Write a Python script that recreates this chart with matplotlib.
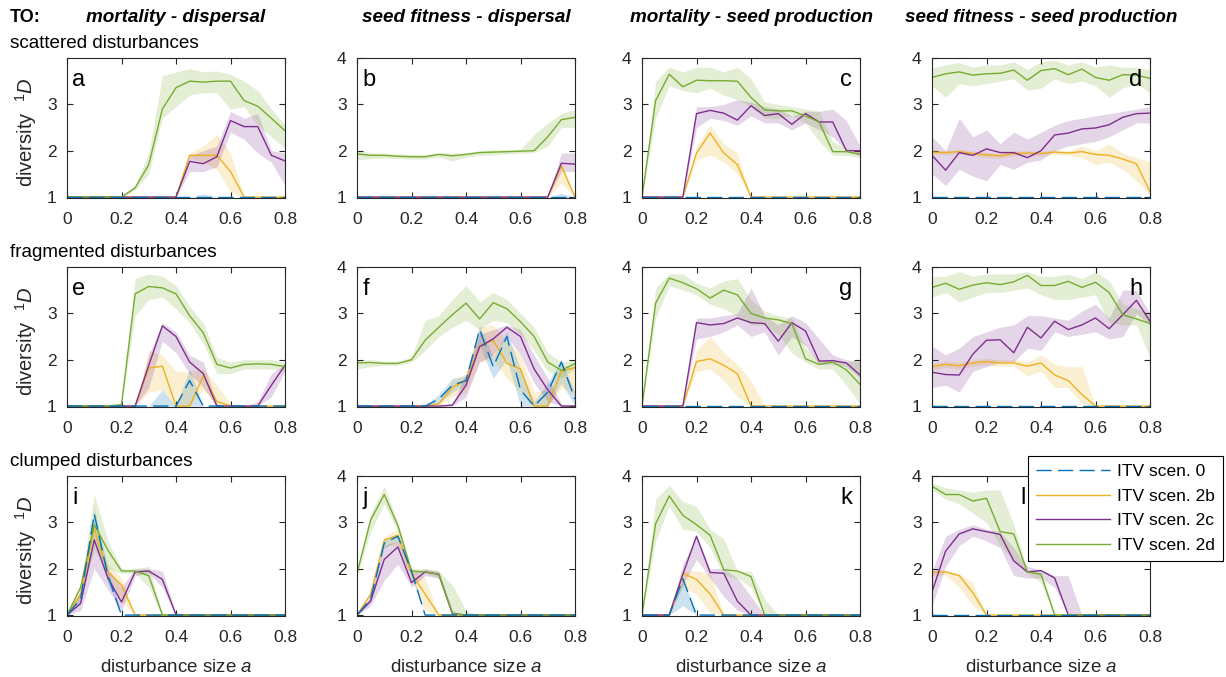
import numpy as np
import matplotlib
matplotlib.use("Agg")
import matplotlib.pyplot as plt
from matplotlib.lines import Line2D

plt.rcParams['font.family'] = ['Liberation Sans', 'DejaVu Sans']
plt.rcParams['mathtext.fontset'] = 'custom'
plt.rcParams['mathtext.rm'] = 'Liberation Sans'
plt.rcParams['mathtext.it'] = 'Liberation Sans:italic'

# disturbance size
x = [0, 0.05, 0.1, 0.15, 0.2, 0.25, 0.3, 0.35, 0.4, 0.45, 0.5, 0.55, 0.6, 0.65, 0.7, 0.75, 0.8]

# ---- panel a : scattered, mortality - dispersal
a_0 = [1, 1, 1, 1, 1, 1, 1, 1, 1, 1, 1, 1, 1, 1, 1, 1, 1]
a_0_lo = [1, 1, 1, 1, 1, 1, 1, 1, 1, 1, 1, 1, 1, 1, 1, 1, 1]
a_0_hi = [1, 1, 1, 1, 1, 1, 1, 1, 1, 1, 1.07, 1, 1, 1, 1, 1, 1]
a_2b = [1, 1, 1, 1, 1, 1, 1, 1, 1, 1.9, 1.9, 1.9, 1.55, 1, 1, 1, 1]
a_2b_lo = [1, 1, 1, 1, 1, 1, 1, 1, 1, 1.85, 1.75, 1.6, 1.1, 1, 1, 1, 1]
a_2b_hi = [1, 1, 1, 1, 1, 1, 1, 1, 1, 1.95, 2.1, 2.35, 1.95, 1, 1, 1, 1]
a_2c = [1, 1, 1, 1, 1, 1, 1, 1, 1, 1.77, 1.72, 1.87, 2.65, 2.52, 2.52, 1.9, 1.78]
a_2c_lo = [1, 1, 1, 1, 1, 1, 1, 1, 1, 1.55, 1.55, 1.65, 2.4, 2.25, 1.95, 1.75, 1.25]
a_2c_hi = [1, 1, 1, 1, 1, 1, 1, 1, 1, 1.9, 2.0, 2.1, 2.85, 2.7, 2.8, 2.0, 1.95]
a_2d = [1, 1, 1, 1, 1, 1.2, 1.7, 2.9, 3.36, 3.5, 3.48, 3.5, 3.5, 3.08, 2.96, 2.7, 2.43]
a_2d_lo = [1, 1, 1, 1, 1, 1.15, 1.5, 2.7, 2.95, 3.2, 3.25, 3.25, 2.9, 2.95, 2.55, 2.3, 2.05]
a_2d_hi = [1, 1, 1, 1, 1, 1.25, 1.95, 3.62, 3.7, 3.77, 3.7, 3.72, 3.65, 3.5, 3.3, 2.9, 2.55]

# ---- panel b : scattered, seed fitness - dispersal
b_0 = [1, 1, 1, 1, 1, 1, 1, 1, 1, 1, 1, 1, 1, 1, 1, 1, 1]
b_0_lo = [1, 1, 1, 1, 1, 1, 1, 1, 1, 1, 1, 1, 1, 1, 1, 1, 1]
b_0_hi = [1, 1, 1, 1, 1, 1, 1, 1, 1, 1, 1, 1, 1, 1, 1, 1.08, 1]
b_2b = [1, 1, 1, 1, 1, 1, 1, 1, 1, 1, 1, 1, 1, 1, 1, 1.67, 1.0]
b_2b_lo = [1, 1, 1, 1, 1, 1, 1, 1, 1, 1, 1, 1, 1, 1, 1, 1.3, 1.0]
b_2b_hi = [1, 1, 1, 1, 1, 1, 1, 1, 1, 1, 1, 1, 1, 1, 1, 1.75, 1.0]
b_2c = [1, 1, 1, 1, 1, 1, 1, 1, 1, 1, 1, 1, 1, 1, 1, 1.73, 1.71]
b_2c_lo = [1, 1, 1, 1, 1, 1, 1, 1, 1, 1, 1, 1, 1, 1, 1, 1.55, 1.55]
b_2c_hi = [1, 1, 1, 1, 1, 1, 1, 1, 1, 1, 1, 1, 1, 1, 1, 1.95, 1.95]
b_2d = [1.93, 1.9, 1.9, 1.88, 1.87, 1.87, 1.92, 1.89, 1.92, 1.96, 1.97, 1.98, 1.99, 2.0, 2.3, 2.67, 2.72]
b_2d_lo = [1.8, 1.83, 1.84, 1.83, 1.82, 1.82, 1.86, 1.78, 1.86, 1.9, 1.91, 1.93, 1.94, 1.96, 2.1, 2.5, 2.5]
b_2d_hi = [2.0, 1.96, 1.95, 1.93, 1.92, 1.92, 1.96, 1.95, 1.96, 2.0, 2.02, 2.02, 2.03, 2.35, 2.6, 2.8, 2.9]

# ---- panel c : scattered, mortality - seed production
c_0 = [1, 1, 1, 1, 1, 1, 1, 1, 1, 1, 1, 1, 1, 1, 1, 1, 1]
c_0_lo = [1, 1, 1, 1, 1, 1, 1, 1, 1, 1, 1, 1, 1, 1, 1, 1, 1]
c_0_hi = [1, 1, 1, 1, 1, 1, 1, 1, 1, 1, 1, 1, 1, 1, 1, 1, 1]
c_2b = [1, 1, 1, 1, 1.95, 2.38, 1.95, 1.7, 1, 1, 1, 1, 1, 1, 1, 1, 1]
c_2b_lo = [1, 1, 1, 1, 1.8, 1.9, 1.75, 1.5, 1, 1, 1, 1, 1, 1, 1, 1, 1]
c_2b_hi = [1, 1, 1, 1, 2.1, 2.55, 2.15, 1.95, 1, 1, 1, 1, 1, 1, 1, 1, 1]
c_2c = [1, 1, 1, 1, 2.8, 2.87, 2.81, 2.66, 2.97, 2.76, 2.8, 2.57, 2.8, 2.62, 2.62, 2.0, 2.0]
c_2c_lo = [1, 1, 1, 1, 2.5, 2.7, 2.65, 2.55, 2.75, 2.6, 2.6, 2.45, 2.6, 2.45, 2.3, 2.0, 1.9]
c_2c_hi = [1, 1, 1, 1, 2.95, 2.95, 3.0, 3.1, 3.05, 2.95, 2.9, 2.75, 2.85, 2.85, 2.9, 2.65, 2.1]
c_2d = [1, 3.08, 3.65, 3.38, 3.52, 3.51, 3.51, 3.5, 3.15, 2.88, 2.86, 2.86, 2.75, 2.62, 1.98, 1.98, 1.92]
c_2d_lo = [1, 2.7, 3.4, 3.3, 3.25, 3.35, 3.2, 3.1, 2.95, 2.7, 2.7, 2.75, 2.6, 2.2, 1.9, 1.9, 1.85]
c_2d_hi = [1, 3.5, 3.8, 3.7, 3.8, 3.8, 3.7, 3.8, 3.55, 3.05, 3.0, 2.95, 2.9, 2.85, 2.2, 2.05, 2.0]

# ---- panel d : scattered, seed fitness - seed production
d_0 = [1, 1, 1, 1, 1, 1, 1, 1, 1, 1, 1, 1, 1, 1, 1, 1, 1]
d_0_lo = [1, 1, 1, 1, 1, 1, 1, 1, 1, 1, 1, 1, 1, 1, 1, 1, 1]
d_0_hi = [1, 1, 1, 1, 1, 1, 1, 1, 1, 1, 1, 1, 1, 1, 1, 1, 1]
d_2b = [1.97, 1.96, 1.98, 1.94, 1.91, 1.89, 1.94, 1.95, 1.94, 1.97, 1.95, 1.98, 1.92, 1.9, 1.82, 1.72, 1.12]
d_2b_lo = [1.92, 1.92, 1.93, 1.89, 1.86, 1.84, 1.89, 1.9, 1.89, 1.92, 1.9, 1.85, 1.7, 1.75, 1.6, 1.35, 1.05]
d_2b_hi = [2.02, 2.0, 2.03, 1.99, 1.96, 1.94, 1.99, 2.0, 1.99, 2.02, 2.0, 2.1, 2.0, 2.15, 1.95, 1.85, 1.75]
d_2c = [1.9, 1.58, 1.96, 1.9, 2.04, 1.96, 1.96, 1.85, 2.0, 2.34, 2.38, 2.47, 2.49, 2.56, 2.72, 2.8, 2.81]
d_2c_lo = [1.5, 1.25, 1.6, 1.45, 1.35, 1.7, 1.6, 1.75, 1.8, 2.0, 2.1, 2.15, 2.2, 2.3, 2.45, 2.6, 2.6]
d_2c_hi = [2.3, 2.0, 2.7, 2.3, 2.45, 2.15, 2.4, 2.25, 2.4, 2.55, 2.65, 2.7, 2.75, 2.8, 2.85, 2.9, 2.95]
d_2d = [3.58, 3.66, 3.7, 3.63, 3.66, 3.67, 3.74, 3.52, 3.73, 3.77, 3.64, 3.76, 3.58, 3.52, 3.64, 3.63, 3.56]
d_2d_lo = [3.4, 3.15, 3.45, 3.4, 3.45, 3.5, 3.55, 3.3, 3.35, 3.55, 3.45, 3.5, 3.4, 3.15, 3.35, 3.45, 3.25]
d_2d_hi = [3.78, 3.85, 3.9, 3.8, 3.85, 3.85, 3.92, 3.75, 3.92, 3.95, 3.85, 3.92, 3.8, 3.85, 3.8, 3.8, 3.75]

# ---- panel e : fragmented, mortality - dispersal
e_0 = [1, 1, 1, 1, 1, 1, 1, 1, 1, 1.55, 1, 1, 1, 1, 1, 1, 1]
e_0_lo = [1, 1, 1, 1, 1, 1, 1, 1, 1, 1, 1, 1, 1, 1, 1, 1, 1]
e_0_hi = [1, 1, 1, 1, 1, 1, 1, 1.35, 1, 1.8, 1, 1, 1, 1, 1, 1, 1]
e_2b = [1, 1, 1, 1, 1, 1, 1.82, 1.86, 1, 1, 1.65, 1.1, 1, 1, 1, 1, 1]
e_2b_lo = [1, 1, 1, 1, 1, 1, 1.3, 1.35, 1, 1, 1.35, 1, 1, 1, 1, 1, 1]
e_2b_hi = [1, 1, 1, 1, 1, 1, 2.2, 2.1, 1.75, 1.75, 1.8, 1.45, 1.05, 1, 1, 1, 1]
e_2c = [1, 1, 1, 1, 1, 1, 1.88, 2.73, 2.5, 1.95, 1.7, 1, 1, 1, 1, 1.45, 1.88]
e_2c_lo = [1, 1, 1, 1, 1, 1, 1.4, 2.4, 2.15, 1.7, 1.4, 1, 1, 1, 1, 1.2, 1.75]
e_2c_hi = [1, 1, 1, 1, 1, 1, 2.1, 2.8, 2.6, 2.1, 1.95, 1.05, 1, 1, 1.1, 1.7, 1.9]
e_2d = [1, 1, 1, 1, 1.03, 3.42, 3.58, 3.55, 3.42, 2.95, 2.58, 1.9, 1.82, 1.9, 1.91, 1.9, 1.85]
e_2d_lo = [1, 1, 1, 1, 1, 2.95, 3.3, 3.35, 3.1, 2.8, 2.35, 1.7, 1.7, 1.8, 1.8, 1.8, 1.75]
e_2d_hi = [1, 1, 1, 1, 1.06, 3.75, 3.85, 3.8, 3.6, 3.15, 2.8, 2.05, 1.95, 2.0, 2.0, 2.0, 1.95]

# ---- panel f : fragmented, seed fitness - dispersal
f_0 = [1, 1, 1, 1, 1, 1, 1.15, 1.45, 1.55, 2.65, 1.85, 2.5, 1.35, 1, 1.3, 1.95, 1.15]
f_0_lo = [1, 1, 1, 1, 1, 1, 1.05, 1.3, 1.45, 2.3, 1.6, 2.0, 1.0, 1, 1, 1.5, 1]
f_0_hi = [1, 1, 1, 1, 1, 1, 1.25, 1.6, 1.65, 2.75, 2.05, 2.6, 1.8, 1.1, 1.5, 2.0, 1.3]
f_2b = [1, 1, 1, 1, 1, 1, 1.05, 1.4, 1.55, 2.3, 2.42, 1.92, 1.8, 1, 1, 1.75, 1.83]
f_2b_lo = [1, 1, 1, 1, 1, 1, 1, 1.2, 1.3, 1.95, 2.0, 1.6, 1.3, 1, 1, 1.4, 1.25]
f_2b_hi = [1, 1, 1, 1, 1, 1, 1.1, 1.55, 1.7, 2.7, 2.75, 2.4, 2.1, 1.3, 1.35, 1.85, 1.9]
f_2c = [1, 1, 1, 1, 1, 1, 1, 1.02, 1.45, 2.28, 2.45, 2.7, 2.5, 1.8, 1.35, 1, 1]
f_2c_lo = [1, 1, 1, 1, 1, 1, 1, 1, 1.2, 1.95, 2.1, 2.5, 2.1, 1.5, 1.1, 1, 1]
f_2c_hi = [1, 1, 1, 1, 1, 1, 1, 1.05, 1.7, 2.55, 2.65, 2.75, 2.65, 2.1, 1.6, 1.05, 1]
f_2d = [1.93, 1.94, 1.92, 1.92, 2.0, 2.42, 2.7, 2.97, 3.22, 2.88, 3.23, 3.1, 2.82, 2.5, 1.95, 1.77, 1.92]
f_2d_lo = [1.8, 1.85, 1.88, 1.88, 1.95, 2.2, 2.5, 2.7, 2.85, 2.65, 2.85, 2.8, 2.55, 2.2, 1.75, 1.6, 1.8]
f_2d_hi = [2.0, 2.0, 1.97, 1.97, 2.05, 2.85, 2.95, 3.3, 3.6, 3.25, 3.45, 3.3, 3.0, 2.7, 2.15, 1.95, 2.0]

# ---- panel g : fragmented, mortality - seed production
g_0 = [1, 1, 1, 1, 1, 1, 1, 1, 1, 1, 1, 1, 1, 1, 1, 1, 1]
g_0_lo = [1, 1, 1, 1, 1, 1, 1, 1, 1, 1, 1, 1, 1, 1, 1, 1, 1]
g_0_hi = [1, 1, 1, 1, 1, 1, 1, 1, 1, 1, 1, 1, 1, 1, 1, 1, 1]
g_2b = [1, 1, 1, 1, 1.96, 2.02, 1.88, 1.7, 1, 1, 1, 1, 1, 1, 1, 1, 1]
g_2b_lo = [1, 1, 1, 1, 1.75, 1.8, 1.55, 1.2, 1, 1, 1, 1, 1, 1, 1, 1, 1]
g_2b_hi = [1, 1, 1, 1, 2.2, 2.5, 2.15, 1.9, 1.55, 1, 1, 1, 1, 1, 1, 1, 1]
g_2c = [1, 1, 1, 1, 2.8, 2.75, 2.78, 2.9, 2.8, 2.78, 2.4, 2.8, 2.62, 1.97, 1.98, 1.93, 1.67]
g_2c_lo = [1, 1, 1, 1, 2.45, 2.5, 2.6, 2.75, 2.5, 2.6, 2.1, 2.5, 2.3, 1.9, 1.9, 1.85, 1.6]
g_2c_hi = [1, 1, 1, 1, 2.9, 2.9, 2.95, 3.0, 3.55, 2.95, 2.75, 2.95, 2.8, 2.45, 2.1, 2.0, 1.95]
g_2d = [1, 3.22, 3.76, 3.66, 3.53, 3.33, 3.5, 3.4, 3.0, 2.9, 2.86, 2.78, 2.02, 1.9, 1.95, 1.78, 1.47]
g_2d_lo = [1, 2.9, 3.6, 3.5, 3.4, 3.2, 3.1, 2.95, 2.75, 2.75, 2.55, 2.15, 1.95, 1.8, 1.8, 1.45, 1.05]
g_2d_hi = [1, 3.55, 3.85, 3.85, 3.65, 3.55, 3.7, 3.75, 3.3, 3.05, 2.95, 2.9, 2.25, 2.0, 2.0, 1.95, 2.0]

# ---- panel h : fragmented, seed fitness - seed production
h_0 = [1, 1, 1, 1, 1, 1, 1, 1, 1, 1, 1, 1, 1, 1, 1, 1, 1]
h_0_lo = [1, 1, 1, 1, 1, 1, 1, 1, 1, 1, 1, 1, 1, 1, 1, 1, 1]
h_0_hi = [1, 1, 1, 1, 1, 1, 1, 1, 1, 1, 1, 1, 1, 1, 1, 1, 1]
h_2b = [1.85, 1.9, 1.87, 1.93, 1.96, 1.93, 1.93, 1.86, 1.93, 1.67, 1.55, 1.25, 1, 1, 1, 1, 1]
h_2b_lo = [1.78, 1.83, 1.8, 1.86, 1.89, 1.86, 1.86, 1.65, 1.75, 1.4, 1.4, 1.05, 1, 1, 1, 1, 1]
h_2b_hi = [1.92, 1.97, 1.94, 2.0, 2.03, 2.0, 2.0, 1.95, 2.1, 1.9, 1.85, 1.85, 1, 1, 1, 1, 1]
h_2c = [1.73, 1.68, 1.67, 2.12, 2.42, 2.43, 2.15, 2.7, 2.47, 2.83, 2.65, 2.75, 2.9, 2.67, 2.97, 3.28, 2.83]
h_2c_lo = [1.4, 1.45, 1.3, 1.75, 1.85, 1.95, 1.95, 2.25, 2.2, 2.6, 2.5, 2.55, 2.6, 2.45, 2.5, 3.0, 2.75]
h_2c_hi = [2.3, 2.1, 2.25, 2.5, 2.6, 2.7, 2.75, 2.95, 2.95, 2.9, 2.85, 3.05, 3.2, 2.9, 3.5, 3.5, 3.0]
h_2d = [3.56, 3.65, 3.52, 3.61, 3.66, 3.62, 3.68, 3.82, 3.6, 3.6, 3.69, 3.56, 3.67, 3.45, 2.97, 2.88, 2.78]
h_2d_lo = [3.35, 3.45, 3.25, 3.35, 3.45, 3.45, 3.5, 3.55, 3.4, 3.3, 3.3, 3.35, 3.4, 2.8, 2.75, 2.75, 2.05]
h_2d_hi = [3.8, 3.8, 3.9, 3.8, 3.85, 3.85, 3.85, 3.9, 3.8, 3.8, 3.85, 3.75, 3.9, 3.7, 3.2, 3.1, 3.0]

# ---- panel i : clumped, mortality - dispersal
i_0 = [1, 1.35, 3.18, 1.85, 1, 1, 1, 1, 1, 1, 1, 1, 1, 1, 1, 1, 1]
i_0_lo = [1, 1.3, 3.0, 1.7, 1, 1, 1, 1, 1, 1, 1, 1, 1, 1, 1, 1, 1]
i_0_hi = [1, 1.4, 3.3, 2.0, 1, 1, 1, 1, 1, 1, 1, 1, 1, 1, 1, 1, 1]
i_2b = [1, 1.45, 2.87, 1.93, 1.65, 1, 1, 1, 1, 1, 1, 1, 1, 1, 1, 1, 1]
i_2b_lo = [1, 1.4, 2.7, 1.75, 1.3, 1, 1, 1, 1, 1, 1, 1, 1, 1, 1, 1, 1]
i_2b_hi = [1, 1.5, 3.0, 2.1, 1.8, 1, 1, 1, 1, 1, 1, 1, 1, 1, 1, 1, 1]
i_2c = [1, 1.25, 2.62, 1.8, 1.28, 1.93, 1.95, 1.77, 1, 1, 1, 1, 1, 1, 1, 1, 1]
i_2c_lo = [1, 1.1, 2.0, 1.55, 1.1, 1.85, 1.9, 1.6, 1, 1, 1, 1, 1, 1, 1, 1, 1]
i_2c_hi = [1.05, 1.5, 2.8, 2.0, 1.6, 2.0, 2.0, 1.95, 1.05, 1, 1, 1, 1, 1, 1, 1, 1]
i_2d = [1, 1.6, 2.95, 2.4, 1.95, 1.95, 1.85, 1, 1, 1, 1, 1, 1, 1, 1, 1, 1]
i_2d_lo = [1, 1.4, 2.4, 2.0, 1.9, 1.9, 1.6, 1, 1, 1, 1, 1, 1, 1, 1, 1, 1]
i_2d_hi = [1, 1.65, 3.6, 2.6, 2.0, 2.0, 2.05, 1.05, 1, 1, 1, 1, 1, 1, 1, 1, 1]

# ---- panel j : clumped, seed fitness - dispersal
j_0 = [1, 1.35, 2.55, 2.7, 1.95, 1, 1, 1, 1, 1, 1, 1, 1, 1, 1, 1, 1]
j_0_lo = [1, 1.3, 2.45, 2.6, 1.85, 1, 1, 1, 1, 1, 1, 1, 1, 1, 1, 1, 1]
j_0_hi = [1, 1.4, 2.65, 2.75, 2.0, 1, 1, 1, 1, 1, 1, 1, 1, 1, 1, 1, 1]
j_2b = [1, 1.45, 2.62, 2.72, 1.9, 1.45, 1, 1, 1, 1, 1, 1, 1, 1, 1, 1, 1]
j_2b_lo = [1, 1.4, 2.5, 2.5, 1.75, 1.1, 1, 1, 1, 1, 1, 1, 1, 1, 1, 1, 1]
j_2b_hi = [1, 1.5, 2.7, 2.85, 2.0, 1.8, 1, 1, 1, 1, 1, 1, 1, 1, 1, 1, 1]
j_2c = [1, 1.3, 2.2, 2.47, 1.7, 1.93, 1.88, 1.03, 1, 1, 1, 1, 1, 1, 1, 1, 1]
j_2c_lo = [1, 1.2, 1.75, 2.1, 1.6, 1.85, 1.8, 1, 1, 1, 1, 1, 1, 1, 1, 1, 1]
j_2c_hi = [1, 1.4, 2.5, 2.6, 1.9, 2.0, 1.95, 1.1, 1, 1, 1, 1, 1, 1, 1, 1, 1]
j_2d = [1.9, 3.05, 3.6, 2.93, 1.95, 1.93, 1.88, 1.03, 1, 1, 1, 1, 1, 1, 1, 1, 1]
j_2d_lo = [1.85, 2.8, 3.4, 2.8, 1.9, 1.9, 1.8, 1.0, 1, 1, 1, 1, 1, 1, 1, 1, 1]
j_2d_hi = [1.95, 3.2, 3.78, 3.0, 2.0, 2.0, 1.95, 1.65, 1.1, 1, 1, 1, 1, 1, 1, 1, 1]

# ---- panel k : clumped, mortality - seed production
k_0 = [1, 1, 1, 1.78, 1, 1, 1, 1, 1, 1, 1, 1, 1, 1, 1, 1, 1]
k_0_lo = [1, 1, 1, 1.2, 1, 1, 1, 1, 1, 1, 1, 1, 1, 1, 1, 1, 1]
k_0_hi = [1, 1, 1, 1.8, 1, 1, 1, 1, 1, 1, 1, 1, 1, 1, 1, 1, 1]
k_2b = [1, 1, 1, 1.9, 1.77, 1.45, 1, 1, 1, 1, 1, 1, 1, 1, 1, 1, 1]
k_2b_lo = [1, 1, 1, 1.6, 1.45, 1.05, 1, 1, 1, 1, 1, 1, 1, 1, 1, 1, 1]
k_2b_hi = [1, 1, 1, 1.95, 1.95, 1.9, 1, 1, 1, 1, 1, 1, 1, 1, 1, 1, 1]
k_2c = [1, 1, 1, 1.88, 2.7, 1.92, 1.9, 1.3, 1, 1, 1, 1, 1, 1, 1, 1, 1]
k_2c_lo = [1, 1, 1, 1.65, 2.2, 1.8, 1.4, 1.1, 1, 1, 1, 1, 1, 1, 1, 1, 1]
k_2c_hi = [1, 1, 1, 2.1, 2.7, 2.0, 2.0, 1.8, 1.4, 1, 1, 1, 1, 1, 1, 1, 1]
k_2d = [1, 2.97, 3.57, 3.15, 2.95, 2.72, 1.98, 1.95, 1.83, 1, 1, 1, 1, 1, 1, 1, 1]
k_2d_lo = [1, 2.6, 3.35, 2.85, 2.8, 2.45, 1.85, 1.8, 1.6, 1, 1, 1, 1, 1, 1, 1, 1]
k_2d_hi = [1, 3.5, 3.8, 3.45, 3.35, 2.85, 2.65, 1.95, 1.95, 1.35, 1, 1, 1, 1, 1, 1, 1]

# ---- panel l : clumped, seed fitness - seed production
l_0 = [1, 1, 1, 1, 1, 1, 1, 1, 1, 1, 1, 1, 1, 1, 1, 1, 1]
l_0_lo = [1, 1, 1, 1, 1, 1, 1, 1, 1, 1, 1, 1, 1, 1, 1, 1, 1]
l_0_hi = [1, 1, 1, 1, 1, 1, 1, 1, 1, 1, 1, 1, 1, 1, 1, 1, 1]
l_2b = [1.92, 1.93, 1.85, 1.48, 1, 1, 1, 1, 1, 1, 1, 1, 1, 1, 1, 1, 1]
l_2b_lo = [1.85, 1.85, 1.6, 1.2, 1, 1, 1, 1, 1, 1, 1, 1, 1, 1, 1, 1, 1]
l_2b_hi = [1.97, 1.97, 1.9, 1.7, 1, 1, 1, 1, 1, 1, 1, 1, 1, 1, 1, 1, 1]
l_2c = [1.5, 2.38, 2.75, 2.86, 2.8, 2.74, 2.17, 1.93, 1.96, 1.8, 1, 1, 1, 1, 1, 1, 1]
l_2c_lo = [1.2, 2.05, 2.5, 2.7, 2.6, 2.45, 1.85, 1.8, 1.8, 1.6, 1, 1, 1, 1, 1, 1, 1]
l_2c_hi = [1.95, 2.7, 2.85, 2.95, 2.85, 2.8, 2.45, 2.05, 1.98, 1.85, 1.85, 1, 1, 1, 1, 1, 1]
l_2d = [3.78, 3.6, 3.6, 3.46, 3.52, 2.8, 2.75, 1.93, 1.88, 1, 1, 1, 1, 1, 1, 1, 1]
l_2d_lo = [3.7, 3.5, 3.4, 3.2, 3.0, 2.5, 2.2, 1.9, 1.7, 1, 1, 1, 1, 1, 1, 1, 1]
l_2d_hi = [3.85, 3.75, 3.7, 3.65, 3.7, 3.7, 2.95, 1.95, 1.95, 1.05, 1, 1, 1, 1, 1, 1, 1]

col_titles = ['mortality - dispersal', 'seed fitness - dispersal',
              'mortality - seed production', 'seed fitness - seed production']
row_titles = ['scattered disturbances', 'fragmented disturbances', 'clumped disturbances']
scen_labels = ['ITV scen. 0', 'ITV scen. 2b', 'ITV scen. 2c', 'ITV scen. 2d']
scen_colors = ['#0072BD', '#EDB120', '#7E2F8E', '#77AC30']
letters = ['a', 'b', 'c', 'd', 'e', 'f', 'g', 'h', 'i', 'j', 'k', 'l']

panels = [
    [(a_0, a_0_lo, a_0_hi), (a_2b, a_2b_lo, a_2b_hi), (a_2c, a_2c_lo, a_2c_hi), (a_2d, a_2d_lo, a_2d_hi)],
    [(b_0, b_0_lo, b_0_hi), (b_2b, b_2b_lo, b_2b_hi), (b_2c, b_2c_lo, b_2c_hi), (b_2d, b_2d_lo, b_2d_hi)],
    [(c_0, c_0_lo, c_0_hi), (c_2b, c_2b_lo, c_2b_hi), (c_2c, c_2c_lo, c_2c_hi), (c_2d, c_2d_lo, c_2d_hi)],
    [(d_0, d_0_lo, d_0_hi), (d_2b, d_2b_lo, d_2b_hi), (d_2c, d_2c_lo, d_2c_hi), (d_2d, d_2d_lo, d_2d_hi)],
    [(e_0, e_0_lo, e_0_hi), (e_2b, e_2b_lo, e_2b_hi), (e_2c, e_2c_lo, e_2c_hi), (e_2d, e_2d_lo, e_2d_hi)],
    [(f_0, f_0_lo, f_0_hi), (f_2b, f_2b_lo, f_2b_hi), (f_2c, f_2c_lo, f_2c_hi), (f_2d, f_2d_lo, f_2d_hi)],
    [(g_0, g_0_lo, g_0_hi), (g_2b, g_2b_lo, g_2b_hi), (g_2c, g_2c_lo, g_2c_hi), (g_2d, g_2d_lo, g_2d_hi)],
    [(h_0, h_0_lo, h_0_hi), (h_2b, h_2b_lo, h_2b_hi), (h_2c, h_2c_lo, h_2c_hi), (h_2d, h_2d_lo, h_2d_hi)],
    [(i_0, i_0_lo, i_0_hi), (i_2b, i_2b_lo, i_2b_hi), (i_2c, i_2c_lo, i_2c_hi), (i_2d, i_2d_lo, i_2d_hi)],
    [(j_0, j_0_lo, j_0_hi), (j_2b, j_2b_lo, j_2b_hi), (j_2c, j_2c_lo, j_2c_hi), (j_2d, j_2d_lo, j_2d_hi)],
    [(k_0, k_0_lo, k_0_hi), (k_2b, k_2b_lo, k_2b_hi), (k_2c, k_2c_lo, k_2c_hi), (k_2d, k_2d_lo, k_2d_hi)],
    [(l_0, l_0_lo, l_0_hi), (l_2b, l_2b_lo, l_2b_hi), (l_2c, l_2c_lo, l_2c_hi), (l_2d, l_2d_lo, l_2d_hi)],
]

W, H = 1226, 677
fig = plt.figure(figsize=(W / 100, H / 100), dpi=100)
axcol = '#262626'

col_left = [67, 357, 642, 932]
row_bottom = [198, 407, 616]
aw, ah = 218, 140
dash = (11, 4.5)

for p in range(12):
    r, c = divmod(p, 4)
    ax = fig.add_axes([col_left[c] / W, 1 - row_bottom[r] / H, aw / W, ah / H])
    # bands first
    for s in range(4):
        m, lo, hi = panels[p][s]
        ax.fill_between(x, lo, hi, color=scen_colors[s], alpha=0.2, linewidth=0)
    # lines, scenario 0 on top
    for s in [1, 2, 3, 0]:
        m, lo, hi = panels[p][s]
        if s == 0:
            ax.plot(x, m, color=scen_colors[s], lw=1.0, dashes=dash)
        else:
            ax.plot(x, m, color=scen_colors[s], lw=1.0)
    ax.set_xlim(0, 0.8)
    ax.set_ylim(0.98, 4)
    ax.set_xticks([0, 0.2, 0.4, 0.6, 0.8])
    ax.set_xticklabels(['0', '0.2', '0.4', '0.6', '0.8'])
    if c == 0:
        ax.set_yticks([1, 2, 3])
        # y label placed by hand, centred like the original
        fig.text(26 / W, 1 - (row_bottom[r] - ah / 2 + 4) / H, 'diversity  $^{1}\\mathit{D}$',
                 fontsize=14.5, color=axcol, rotation=90, ha='center', va='center')
    else:
        ax.set_yticks([1, 2, 3, 4])
    if r == 2:
        ax.set_xlabel('disturbance size $\\mathit{a}$', fontsize=13.5, color=axcol, labelpad=10)
    ax.tick_params(direction='in', top=True, right=True, length=4, width=0.8,
                   labelsize=12.5, colors=axcol)
    ax.tick_params(axis='x', pad=10)
    ax.tick_params(axis='y', pad=7.5)
    for sp in ax.spines.values():
        sp.set_color(axcol)
        sp.set_linewidth(0.8)
    if p == 11:
        # letter l sits left of the legend
        ax.text(0.42, 0.84, letters[p], transform=ax.transAxes, fontsize=17,
                ha='center', va='center', color='black')
    elif c < 2:
        ax.text(0.025, 0.84, letters[p], transform=ax.transAxes, fontsize=17,
                ha='left', va='center', color='black')
    else:
        ax.text(0.965, 0.84, letters[p], transform=ax.transAxes, fontsize=17,
                ha='right', va='center', color='black')

# column titles and row labels
fig.text(10 / W, 1 - 18 / H, 'TO:', fontsize=13, fontweight='bold', ha='left', va='center')
for c in range(4):
    fig.text((col_left[c] + aw / 2) / W, 1 - 18 / H, col_titles[c], fontsize=13.6,
             fontweight='bold', fontstyle='italic', ha='center', va='center')
for r, yy in enumerate([44, 253, 462]):
    fig.text(10 / W, 1 - yy / H, row_titles[r], fontsize=13.6, ha='left', va='center')

handles = [Line2D([], [], color=scen_colors[0], lw=1.0, dashes=dash)]
handles += [Line2D([], [], color=scen_colors[s], lw=1.0) for s in [1, 2, 3]]
leg = fig.legend(handles, scen_labels, loc='upper right', bbox_to_anchor=(1223 / W, 1 - 456 / H),
                 fontsize=12.5, frameon=True, fancybox=False, framealpha=1,
                 edgecolor='black', handlelength=4.3, borderpad=0.45,
                 labelspacing=0.55, handletextpad=0.4, borderaxespad=0)
leg.get_frame().set_linewidth(0.8)

fig.savefig('out.png', dpi=100)
